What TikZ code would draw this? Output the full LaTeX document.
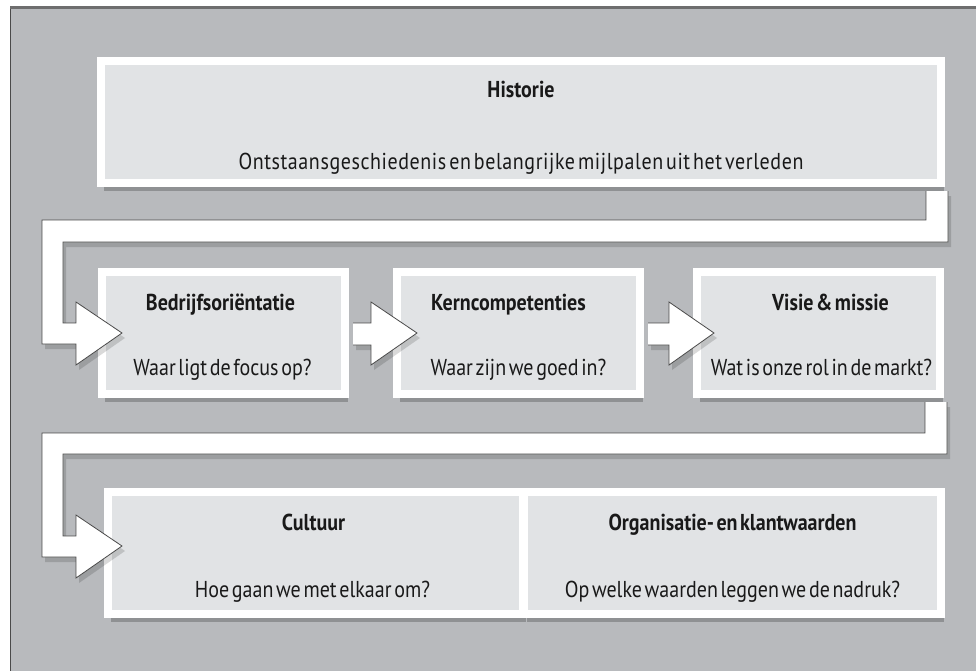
\documentclass[tikz,border=0pt]{standalone}
\usepackage{fontspec}
\setmainfont{PT Sans}[FakeStretch=0.87, WordSpace=0.5]
\usetikzlibrary{shadows,calc}
\definecolor{bg}{HTML}{B8BABD}
\definecolor{panel}{HTML}{E1E3E5}
\definecolor{edge}{HTML}{4A4A4A}
\tikzset{
  panelbox/.style={fill=panel, draw=white, line width=8pt, minimum height=122pt, inner sep=0pt,
    drop shadow={shadow xshift=3pt, shadow yshift=-8pt, opacity=0.22, fill=black}},
  ttl/.style={font=\bfseries\fontsize{23}{26}\selectfont, anchor=base, inner sep=0pt, text=black!90},
  sub/.style={font=\fontsize{23}{26}\selectfont, anchor=base, inner sep=0pt, text=black!90},
  flow/.style={fill=white, draw=edge, line width=0.8pt, line join=miter,
    drop shadow={shadow xshift=3pt, shadow yshift=-5pt, opacity=0.15, fill=black}},
}
\begin{document}
\begin{tikzpicture}[x=1pt,y=-1pt]
\useasboundingbox (0,0) rectangle (976,671);
\fill[white] (0,0) rectangle (976,671);
\fill[bg] (10,7) rectangle (976,671);
\draw[edge, line width=1pt] (10.5,671) -- (10.5,7);
\draw[edge!80, line width=3pt] (10,8) -- (976,8);

% boxes
\node[panelbox, minimum width=840pt] (hist) at (521,122) {};
\node[panelbox, minimum width=243pt] (bedr) at (223.5,333) {};
\node[panelbox, minimum width=243pt] (kern) at (518.5,333) {};
\node[panelbox, minimum width=243pt] (visie) at (818.5,333) {};
\node[panelbox, minimum width=415pt] (cult) at (315.5,553) {};
\node[panelbox, minimum width=417pt] (org) at (732.5,553) {};

% connector Historie -> Bedrijfsorientatie
\filldraw[flow] ($(hist.south east)+(-19,4)$) -- ($(hist.south east)+(-19,33)$)
  -- ($(bedr.west |- hist.south)+(-56,33)$) -- ($(bedr.west)+(-56,11)$)
  -- ($(bedr.west)+(-22,11)$) -- ($(bedr.west)+(-22,32)$) -- ($(bedr.west)+(24,0)$)
  -- ($(bedr.west)+(-22,-31)$) -- ($(bedr.west)+(-22,-10)$) -- ($(bedr.west)+(-35,-10)$)
  -- ($(bedr.west |- hist.south)+(-35,55)$) -- ($(hist.south east)+(3,55)$)
  -- ($(hist.south east)+(3,4)$);

% row 2 arrows
\filldraw[flow] ($(bedr.east)+(4,-10)$) -- ($(kern.west)+(-22,-10)$) -- ($(kern.west)+(-22,-31)$)
  -- ($(kern.west)+(24,0)$) -- ($(kern.west)+(-22,32)$) -- ($(kern.west)+(-22,12)$)
  -- ($(bedr.east)+(4,12)$);
\filldraw[flow] ($(kern.east)+(4,-10)$) -- ($(visie.west)+(-24,-10)$) -- ($(visie.west)+(-24,-31)$)
  -- ($(visie.west)+(21,0)$) -- ($(visie.west)+(-24,32)$) -- ($(visie.west)+(-24,12)$)
  -- ($(kern.east)+(4,12)$);

% connector Visie -> Cultuur
\filldraw[flow] ($(visie.south east)+(-19,4)$) -- ($(visie.south east)+(-19,35)$)
  -- ($(cult.west |- visie.south)+(-62,35)$) -- ($(cult.west)+(-62,4)$)
  -- ($(cult.west)+(-28,4)$) -- ($(cult.west)+(-28,25)$) -- ($(cult.west)+(18,-7)$)
  -- ($(cult.west)+(-28,-38)$) -- ($(cult.west)+(-28,-17)$) -- ($(cult.west)+(-41,-17)$)
  -- ($(cult.west |- visie.south)+(-41,56)$) -- ($(visie.south east)+(3,56)$)
  -- ($(visie.south east)+(3,4)$);

% texts
\node[ttl] (histT) at ($(hist.center)+(0,-24)$) {Historie};
\node[sub] (histS) at ($(hist.center)+(0,48)$) {\addfontfeature{LetterSpace=2.5}Ontstaansgeschiedenis en belangrijke mijlpalen uit het verleden};
\node[ttl] (bedrT) at ($(bedr.center)+(-3,-23)$) {Bedrijfsoriëntatie};
\node[sub] (bedrS) at ($(bedr.center)+(-1,42)$) {Waar ligt de focus op?};
\node[ttl] (kernT) at ($(kern.center)+(-10,-23)$) {Kerncompetenties};
\node[sub] (kernS) at ($(kern.center)+(0,42)$) {Waar zijn we goed in?};
\node[ttl] (visieT) at ($(visie.center)+(12,-23)$) {Visie \& missie};
\node[sub] (visieS) at ($(visie.center)+(3,42)$) {Wat is onze rol in de markt?};
\node[ttl] (cultT) at ($(cult.center)+(-2,-23)$) {Cultuur};
\node[sub] (cultS) at ($(cult.center)+(-3,44)$) {Hoe gaan we met elkaar om?};
\node[ttl] (orgT) at ($(org.center)+(0,-23)$) {Organisatie- en klantwaarden};
\node[sub] (orgS) at ($(org.center)+(0,44)$) {Op welke waarden leggen we de nadruk?};
\end{tikzpicture}
\end{document}
